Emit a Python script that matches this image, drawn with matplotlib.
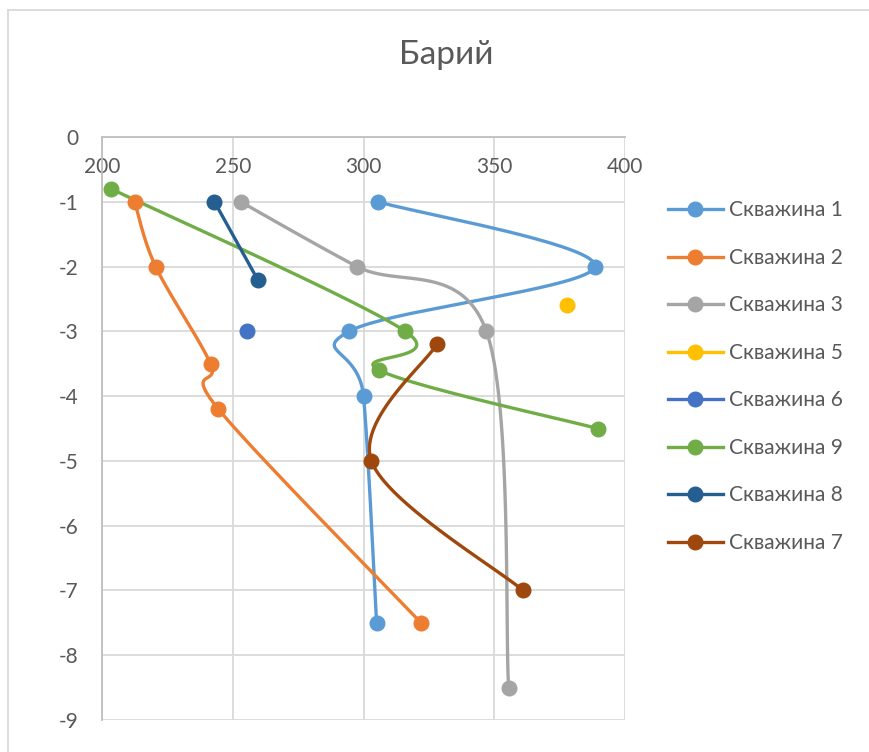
import numpy as np
import matplotlib.pyplot as plt
from matplotlib.lines import Line2D

plt.rcParams['font.family'] = ['Lato', 'DejaVu Sans']
plt.rcParams['axes.unicode_minus'] = False

# data: barium value (x) vs depth (y)
names = ["Скважина 1", "Скважина 2", "Скважина 3", "Скважина 5",
         "Скважина 6", "Скважина 9", "Скважина 8", "Скважина 7"]
colors = ["#5B9BD5", "#ED7D31", "#A5A5A5", "#FFC000",
          "#4472C4", "#70AD47", "#255E91", "#9E480E"]

w1_x = [305.5, 388.5, 294.5, 300, 305]
w1_y = [-1, -2, -3, -4, -7.5]
w2_x = [212.5, 220.5, 241.5, 244.5, 322]
w2_y = [-1, -2, -3.5, -4.2, -7.5]
w3_x = [253, 297.5, 347, 355.5]
w3_y = [-1, -2, -3, -8.5]
w5_x = [378]
w5_y = [-2.6]
w6_x = [255.5]
w6_y = [-3]
w9_x = [203.5, 316, 306, 389.5]
w9_y = [-0.8, -3, -3.6, -4.5]
w8_x = [243, 259.5]
w8_y = [-1, -2.2]
w7_x = [328, 303, 361]
w7_y = [-3.2, -5, -7]

series = [(w1_x, w1_y), (w2_x, w2_y), (w3_x, w3_y), (w5_x, w5_y),
          (w6_x, w6_y), (w9_x, w9_y), (w8_x, w8_y), (w7_x, w7_y)]

fig = plt.figure(figsize=(8.69, 7.52), dpi=100)
ax = fig.add_axes([102 / 869, 1 - 720 / 752, 523 / 869, 583 / 752])
ax.set_xlim(200, 400)
ax.set_ylim(-9, 0)


def smooth(xs, ys, n=40):
    # excel-like smoothed line: bezier through points, computed in display space
    pts = ax.transData.transform(np.column_stack([xs, ys]))
    if len(pts) < 3:
        return xs, ys
    out = [pts[0]]
    for i in range(len(pts) - 1):
        p0 = pts[max(i - 1, 0)]
        p1 = pts[i]
        p2 = pts[i + 1]
        p3 = pts[min(i + 2, len(pts) - 1)]
        c1 = p1 + (p2 - p0) / 6
        c2 = p2 - (p3 - p1) / 6
        t = np.linspace(0, 1, n)[1:, None]
        seg = ((1 - t) ** 3 * p1 + 3 * (1 - t) ** 2 * t * c1
               + 3 * (1 - t) * t ** 2 * c2 + t ** 3 * p2)
        out.extend(seg)
    out = ax.transData.inverted().transform(np.array(out))
    return out[:, 0], out[:, 1]


for (xs, ys), c in zip(series, colors):
    sx, sy = smooth(xs, ys)
    ax.plot(sx, sy, color=c, lw=2.4, zorder=3, solid_capstyle='round')
    ax.plot(xs, ys, 'o', color=c, ms=10.5, zorder=4)

ax.set_xticks([200, 250, 300, 350, 400])
ax.set_yticks(range(-9, 1))
ax.grid(True, color="#D9D9D9", lw=1.3)
ax.set_axisbelow(True)
for s in ["right", "bottom"]:
    ax.spines[s].set_visible(False)
for s in ["top", "left"]:
    ax.spines[s].set_color("#BFBFBF")
    ax.spines[s].set_linewidth(1.3)
ax.xaxis.set_ticks_position('top')
ax.tick_params(axis='x', length=0, pad=-29, labelsize=15, labelcolor="#595959")
ax.tick_params(axis='y', length=0, pad=17, labelsize=15, labelcolor="#595959")

fig.text(0.513, 1 - 55 / 752, "Барий", ha='center', va='center',
         fontsize=24, color="#595959")

handles = [Line2D([], [], color=c, lw=2.4, marker='o', ms=10.5) for c in colors]
fig.legend(handles, names, loc='upper left', bbox_to_anchor=(660 / 869, 1 - 192 / 752),
           frameon=False, fontsize=15, labelcolor="#595959", handlelength=2.6,
           handletextpad=0.3, labelspacing=1.32, borderaxespad=0)

# chart area border (top and left edges visible)
fig.add_artist(Line2D([8 / 869, 1], [1 - 10 / 752, 1 - 10 / 752], color="#D9D9D9", lw=1.3))
fig.add_artist(Line2D([8 / 869, 8 / 869], [0, 1 - 10 / 752], color="#D9D9D9", lw=1.3))

fig.savefig("out.png", dpi=100)
